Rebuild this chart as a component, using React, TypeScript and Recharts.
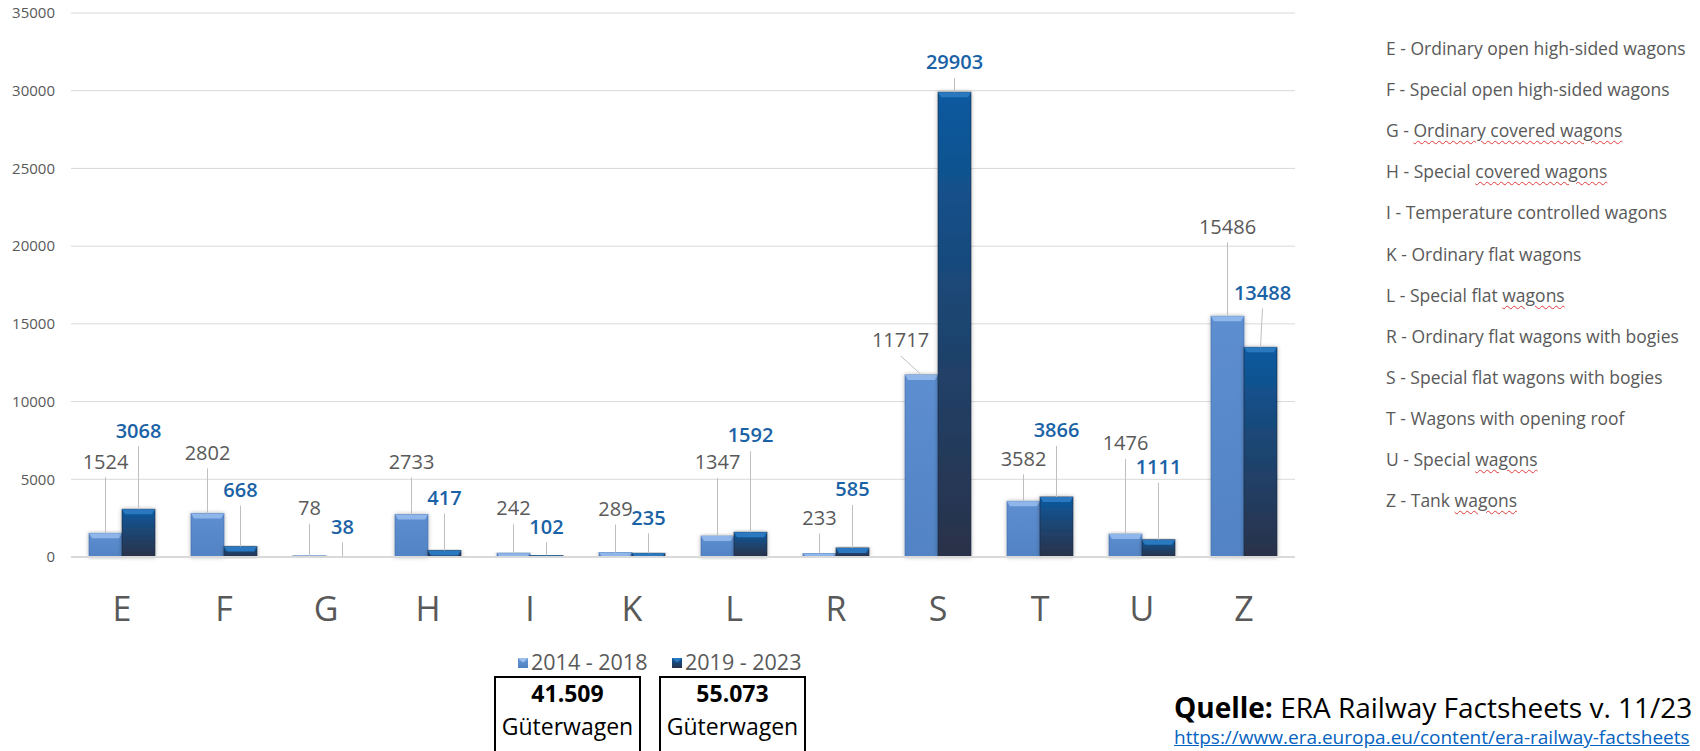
import { BarChart, Bar, XAxis, YAxis, CartesianGrid, LabelList } from 'recharts';

const categories = ['E', 'F', 'G', 'H', 'I', 'K', 'L', 'R', 'S', 'T', 'U', 'Z'];
const wagons2014to2018 = [1524, 2802, 78, 2733, 242, 289, 1347, 233, 11717, 3582, 1476, 15486];
const wagons2019to2023 = [3068, 668, 38, 417, 102, 235, 1592, 585, 29903, 3866, 1111, 13488];
const yTicks = [0, 5000, 10000, 15000, 20000, 25000, 30000, 35000];
const seriesNames = ['2014 - 2018', '2019 - 2023'];
const totals = ['41.509', '55.073'];
const typeCodes = ['E', 'F', 'G', 'H', 'I', 'K', 'L', 'R', 'S', 'T', 'U', 'Z'];
const typePlain = [
  'Ordinary open high-sided wagons',
  'Special open high-sided wagons',
  '',
  'Special ',
  'Temperature controlled wagons',
  'Ordinary flat wagons',
  'Special flat ',
  'Ordinary flat wagons with bogies',
  'Special flat wagons with bogies',
  'Wagons with opening roof',
  'Special ',
  'Tank ',
];
// words that carry the red spell-check squiggle in the original
const typeFlagged = ['', '', 'Ordinary covered wagons', 'covered wagons', '', '', 'wagons', '', '', '', 'wagons', 'wagons'];

// how far each value label sits above its bar (px), and sideways shift
const lift1 = [72, 61, 48, 53, 45, 44, 74, 36, 35, 43, 91, 90];
const lift2 = [79, 57, 30, 53, 29, 36, 97, 59, 30, 67, 73, 55];
const shift1 = [0, 0, 0, 0, 0, 0, 0, 0, -21, 0, 0, 0];
const shift2 = [0, 0, 0, 0, 0, 0, 0, 0, 0, 0, 0, 2];

const data = categories.map((c, i) => ({
  cat: c,
  a: wagons2014to2018[i],
  b: wagons2019to2023[i],
}));

const FONT = '"Open Sans", "Noto Sans", sans-serif';
const GRAY = '#595959';
const BLUE_TXT = '#1A62A6';

const makeBarShape = (gradId: string, bevel: string, edge: string) => (props: any) => {
  const { x, y, width, height } = props;
  if (!height || height <= 0) return null;
  const b = Math.min(5, height);
  return (
    <g filter="url(#barShadow)">
      <rect x={x} y={y} width={width} height={height} fill={`url(#${gradId})`} stroke={edge} strokeWidth={1} strokeOpacity={0.6} />
      <polygon points={`${x},${y} ${x + width},${y} ${x + width - 3},${y + b} ${x + 3},${y + b}`} fill={bevel} />
    </g>
  );
};

const makeLabel = (lifts: number[], shifts: number[], color: string, weight: number) => (props: any) => {
  const x = Number(props.x);
  const y = Number(props.y);
  const w = Number(props.width);
  const i = props.index;
  const cx = x + w / 2;
  const tx = cx + shifts[i];
  const ty = y - lifts[i];
  const showLine = lifts[i] > 20;
  return (
    <g>
      {showLine && <line x1={cx} y1={y} x2={tx} y2={ty + 16} stroke="#BFBFBF" strokeWidth={1} />}
      <text x={tx} y={ty} dy="0.36em" textAnchor="middle" fill={color} fontSize={20} fontWeight={weight} fontFamily={FONT}>
        {props.value}
      </text>
    </g>
  );
};

const XTick = (props: any) => {
  const { x, y, payload } = props;
  return (
    <text x={x} y={y + 62} textAnchor="middle" fill={GRAY} fontSize={34} fontFamily={FONT}>
      {payload.value}
    </text>
  );
};

const Marker = ({ dark }: { dark: boolean }) => (
  <svg width={10} height={10} style={{ display: 'inline-block', verticalAlign: 'middle', marginRight: 3, marginTop: -3 }}>
    <defs>
      <linearGradient id={dark ? 'mk2' : 'mk1'} x1="0" y1="0" x2="0" y2="1">
        <stop offset="0%" stopColor={dark ? '#0A5AA0' : '#6A9AD8'} />
        <stop offset="100%" stopColor={dark ? '#2A3249' : '#4F7FC0'} />
      </linearGradient>
    </defs>
    <rect x={0} y={0} width={10} height={10} fill={`url(#${dark ? 'mk2' : 'mk1'})`} />
    <polygon points="0,0 10,0 6,4 4,4" fill={dark ? '#2A78C0' : '#9DC0EE'} />
  </svg>
);

export default function App() {
  return (
    <div style={{ position: 'absolute', left: 0, top: 0, width: 1700, height: 751, background: '#fff', overflow: 'hidden', fontFamily: FONT }}>
      <BarChart
        width={1700}
        height={751}
        data={data}
        margin={{ top: 13, right: 405, left: 0, bottom: 134 }}
        barSize={33}
        barGap={0}
      >
        <defs>
          <linearGradient id="g1" x1="0" y1="0" x2="0" y2="1">
            <stop offset="0%" stopColor="#5D8ED0" />
            <stop offset="100%" stopColor="#5283C4" />
          </linearGradient>
          <linearGradient id="g2" x1="0" y1="0" x2="0" y2="1">
            <stop offset="0%" stopColor="#0A5AA0" />
            <stop offset="45%" stopColor="#1C4674" />
            <stop offset="100%" stopColor="#2A3249" />
          </linearGradient>
          <filter id="barShadow" x="-30%" y="-10%" width="160%" height="120%">
            <feDropShadow dx={0} dy={0} stdDeviation={2} floodColor="#000" floodOpacity={0.3} />
          </filter>
        </defs>
        <CartesianGrid horizontal vertical={false} stroke="#D9D9D9" />
        <XAxis
          dataKey="cat"
          height={60}
          tick={<XTick />}
          tickLine={false}
          tickSize={0}
          axisLine={{ stroke: '#D9D9D9', strokeWidth: 2 }}
          interval={0}
        />
        <YAxis
          width={71}
          domain={[0, 35000]}
          ticks={yTicks}
          tickLine={false}
          tickSize={0}
          tickMargin={16}
          axisLine={false}
          tick={{ fill: GRAY, fontSize: 15, fontFamily: FONT }}
        />
        <Bar dataKey="a" name={seriesNames[0]} shape={makeBarShape('g1', '#8FB6EA', '#3F6DAA')} isAnimationActive={false}>
          <LabelList dataKey="a" content={makeLabel(lift1, shift1, GRAY, 400)} />
        </Bar>
        <Bar dataKey="b" name={seriesNames[1]} shape={makeBarShape('g2', '#2A78C0', '#1B2940')} isAnimationActive={false}>
          <LabelList dataKey="b" content={makeLabel(lift2, shift2, BLUE_TXT, 600)} />
        </Bar>
      </BarChart>

      {/* wagon type key on the right */}
      {typeCodes.map((code, i) => (
        <div
          key={code}
          style={{
            position: 'absolute',
            left: 1386,
            top: 36 + 41.1 * i,
            fontSize: 17.5,
            lineHeight: '24px',
            color: GRAY,
            whiteSpace: 'nowrap',
          }}
        >
          {code} - {typePlain[i]}
          {typeFlagged[i] && (
            <span style={{ textDecoration: 'underline wavy #E23B3B', textDecorationThickness: 1, textUnderlineOffset: 3 }}>
              {typeFlagged[i]}
            </span>
          )}
        </div>
      ))}

      {/* series legend */}
      {seriesNames.map((n, i) => (
        <div
          key={n}
          style={{ position: 'absolute', left: 518 + 154 * i, top: 648, fontSize: 21.5, lineHeight: '28px', color: GRAY, whiteSpace: 'nowrap' }}
        >
          <Marker dark={i === 1} />
          {n}
        </div>
      ))}

      {/* totals boxes */}
      {totals.map((t, i) => (
        <div
          key={t}
          style={{
            position: 'absolute',
            left: 494 + 165 * i,
            top: 676,
            width: 143,
            height: 90,
            border: '2px solid #000',
            textAlign: 'center',
            color: '#000',
            fontSize: 23,
          }}
        >
          <div style={{ fontWeight: 700, lineHeight: '32px', marginTop: -1 }}>{t}</div>
          <div style={{ lineHeight: '34px' }}>Güterwagen</div>
        </div>
      ))}

      {/* source */}
      <div style={{ position: 'absolute', left: 1174, top: 688, fontSize: 28, lineHeight: '38px', color: '#000', whiteSpace: 'nowrap' }}>
        <b>Quelle:</b> ERA Railway Factsheets v. 11/23
      </div>
      <div
        style={{
          position: 'absolute',
          left: 1174,
          top: 725,
          fontSize: 19,
          lineHeight: '24px',
          color: '#0563C1',
          textDecoration: 'underline',
          whiteSpace: 'nowrap',
        }}
      >
        https://www.era.europa.eu/content/era-railway-factsheets
      </div>
    </div>
  );
}
